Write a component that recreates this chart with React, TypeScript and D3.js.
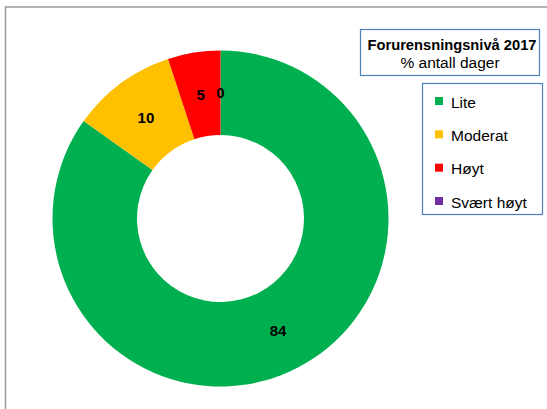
import React from "react";
import * as d3 from "d3";

const categories = ["Lite", "Moderat", "Høyt", "Svært høyt"];
const values = [84, 10, 5, 0];
const colors = ["#00B050", "#FFC000", "#FF0000", "#7030A0"];
const titleLines = ["Forurensningsnivå 2017", "% antall dager"];

const W = 547;
const H = 409;
const cx = 220.5;
const cy = 218.5;
const outerR = 168;
const innerR = 83.5;
const font = "'Liberation Sans', Arial, sans-serif";

const App = () => {
  const pie = d3
    .pie<number>()
    .sort(null)
    .value((d) => d)
    .startAngle(0)
    .endAngle(2 * Math.PI);
  const arcs = pie(values);
  const arc = d3.arc<d3.PieArcDatum<number>>().innerRadius(innerR).outerRadius(outerR);

  // legend rows
  const legendY = d3.scalePoint<string>().domain(categories).range([101, 201]);

  return (
    <div style={{ position: "absolute", left: 0, top: 0 }}>
      <svg width={W} height={H} style={{ display: "block", background: "#fff" }}>
        {/* outer frame */}
        <rect x={5.5} y={7} width={600} height={500} fill="none" stroke="#a0a0a0" strokeWidth={1.6} />

        <g transform={`translate(${cx},${cy})`}>
          {arcs.map((a, i) => (
            <path key={categories[i]} d={arc(a) || ""} fill={colors[i]} />
          ))}
          {arcs.map((a, i) => {
            const [x, y] = arc.centroid(a);
            return (
              <text
                key={"l" + i}
                x={x}
                y={y}
                textAnchor="middle"
                dominantBaseline="central"
                fontFamily={font}
                fontWeight="bold"
                fontSize={15}
                fill="#000"
              >
                {values[i]}
              </text>
            );
          })}
        </g>

        {/* title box */}
        <rect x={360.5} y={29.5} width={179} height={46} fill="#fff" stroke="#4f81bd" strokeWidth={1.2} />
        <text x={452} y={49.5} textAnchor="middle" fontFamily={font} fontWeight="bold" fontSize={14.7} fill="#000">
          {titleLines[0]}
        </text>
        <text x={450} y={68} textAnchor="middle" fontFamily={font} fontSize={15.5} fill="#000">
          {titleLines[1]}
        </text>

        {/* legend box */}
        <rect x={422.5} y={83.5} width={120} height={131} fill="#fff" stroke="#4f81bd" strokeWidth={1.2} />
        {categories.map((c, i) => {
          const y = legendY(c) as number;
          return (
            <g key={c}>
              <rect x={435} y={y - 4} width={8} height={8} fill={colors[i]} />
              <text x={451} y={y + 1} dominantBaseline="central" fontFamily={font} fontSize={15.5} fill="#000">
                {c}
              </text>
            </g>
          );
        })}
      </svg>
    </div>
  );
};

export default App;
